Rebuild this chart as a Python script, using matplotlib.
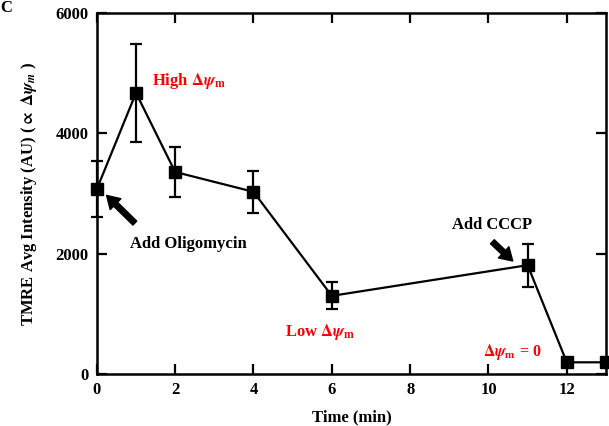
import matplotlib
matplotlib.use("Agg")
import matplotlib.pyplot as plt

# Mesures TMRE au cours du temps
temps = [0, 1, 2, 4, 6, 11, 12, 13]
intensite = [3075, 4675, 3360, 3030, 1300, 1810, 195, 195]
erreur = [465, 810, 420, 350, 225, 355, 0, 0]

xticks = [0, 2, 4, 6, 8, 10, 12]
yticks = [0, 2000, 4000, 6000]

plt.rcParams["font.family"] = ["Liberation Serif", "DejaVu Serif"]
plt.rcParams["font.weight"] = "bold"
plt.rcParams["mathtext.fontset"] = "stix"

fig = plt.figure(figsize=(6.09, 4.26), dpi=100)
ax = fig.add_axes([0.159, 0.122, 0.836, 0.847])

ax.errorbar(temps, intensite, yerr=erreur, color="black", lw=1.6,
            marker="s", markersize=9, capsize=4.5, elinewidth=1.6,
            capthick=1.6, clip_on=False, zorder=3)

ax.set_xlim(0, 13)
ax.set_ylim(0, 6000)
ax.set_xticks(xticks)
ax.set_yticks(yticks)
ax.tick_params(direction="in", length=7, width=1.6, top=True, right=True,
               labelsize=12, pad=6)
for lab in ax.get_xticklabels() + ax.get_yticklabels():
    lab.set_fontweight("bold")
for sp in ax.spines.values():
    sp.set_linewidth(1.8)

ax.set_xlabel("Time (min)", fontsize=12, fontweight="bold", labelpad=8)
ax.set_ylabel(r"TMRE Avg Intensity (AU) ($\propto$ $\Delta\psi_m$ )",
              fontsize=12, fontweight="bold", labelpad=12)

# Étiquettes rouges
ax.text(1.4, 4880, r"High $\Delta\psi_\mathbf{m}$", color="red",
        fontsize=12, fontweight="bold", va="center")
ax.text(5.7, 700, r"Low $\Delta\psi_\mathbf{m}$", color="red",
        fontsize=12, fontweight="bold", va="center", ha="center")
ax.text(10.6, 370, r"$\Delta\psi_\mathbf{m}$ = 0", color="red",
        fontsize=11.5, fontweight="bold", va="center", ha="center")

# Flèches pour les ajouts de drogues
fleche = dict(arrowstyle="simple,head_length=0.45,head_width=0.55,tail_width=0.2",
              color="black", mutation_scale=20, shrinkA=0, shrinkB=0)
ax.annotate("", xy=(0.25, 2970), xytext=(0.97, 2510), arrowprops=fleche)
ax.text(0.85, 2160, "Add Oligomycin", fontsize=12, fontweight="bold",
        va="center")
ax.annotate("", xy=(10.62, 1880), xytext=(10.1, 2200), arrowprops=fleche)
ax.text(10.1, 2480, "Add CCCP", fontsize=12, fontweight="bold",
        va="center", ha="center")

fig.text(0.0, 1.0, "C", fontsize=12, fontweight="bold", va="top")

fig.savefig("out.png", dpi=100)
